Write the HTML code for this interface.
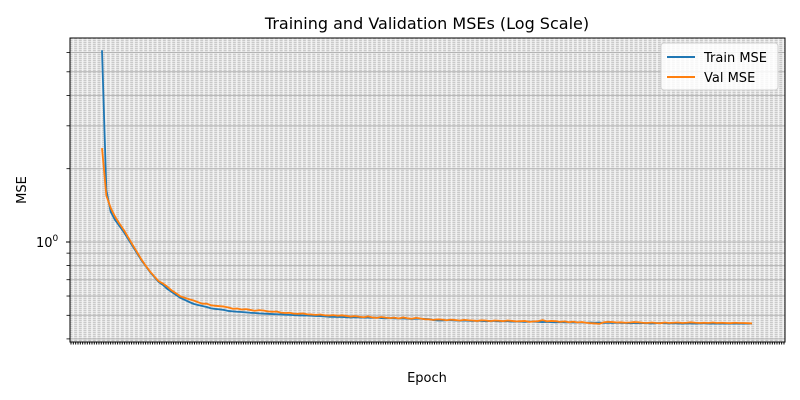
<!DOCTYPE html>
<html><head><meta charset="utf-8"><style>
html,body{margin:0;padding:0;background:#fff;}
svg{display:block;font-family:"DejaVu Sans","Liberation Sans",sans-serif;}
</style></head><body>
<svg id="chart" width="800" height="400" viewBox="0 0 800 400">
<defs>
<pattern id="gridpat" x="70" y="38" width="4.67" height="2" patternUnits="userSpaceOnUse">
<rect width="4.67" height="2" fill="#c9c9c9"/>
<rect y="1" width="4.67" height="1" fill="#e4e4e4"/>
<rect x="2.5" width="1.6" height="2" fill="#f4f4f4"/>
</pattern>
</defs>
<rect x="70" y="38" width="715" height="304" fill="url(#gridpat)"/>
<g id="hgrid"></g>
<g id="series"></g>
<rect x="70" y="38" width="715" height="304" fill="none" stroke="#000" stroke-width="1"/>
<g id="axes"></g>
<text x="427" y="29" text-anchor="middle" font-size="16">Training and Validation MSEs (Log Scale)</text>
<text x="427" y="382" text-anchor="middle" font-size="13">Epoch</text>
<text transform="translate(26,190) rotate(-90)" text-anchor="middle" font-size="13">MSE</text>
<g>
<rect x="661" y="43" width="117" height="47" rx="3" fill="#fff" fill-opacity="0.85" stroke="#d0d0d0"/>
<g>
<line x1="667" y1="57" x2="695" y2="57" stroke="#1f77b4" stroke-width="2"/>
<text x="704" y="62" font-size="13">Train MSE</text>
</g>
<g>
<line x1="667" y1="77" x2="695" y2="77" stroke="#ff7f0e" stroke-width="2"/>
<text x="704" y="82" font-size="13">Val MSE</text>
</g>
</g>
</svg>
<script>
const trainMSE=[6.13,1.63,1.33,1.231,1.163,1.099,1.029,0.963,0.901,0.843,0.797,0.753,0.718,0.685,0.666,0.641,0.623,0.606,0.589,0.578,0.567,0.557,0.551,0.546,0.541,0.534,0.531,0.529,0.526,0.521,
0.519,0.517,0.516,0.514,0.512,0.511,0.509,0.508,0.507,0.506,0.505,0.504,0.503,0.502,0.501,
0.500,0.499,0.499,0.498,0.497,0.496,0.495,0.493,0.493,0.492,0.492,0.491,0.490,0.491,0.490,
0.489,0.489,0.488,0.489,0.487,0.486,0.487,0.486,0.485,0.486,0.484,0.483,0.484,0.484,0.483,
0.482,0.478,0.476,0.476,0.477,0.477,0.476,0.475,0.476,0.475,0.474,0.475,0.474,0.473,0.474,
0.474,0.472,0.473,0.473,0.471,0.472,0.471,0.470,0.471,0.471,0.470,0.469,0.470,0.469,0.468,
0.469,0.468,0.468,0.467,0.468,0.467,0.466,0.467,0.466,0.467,0.465,0.466,0.465,0.466,0.465,
0.465,0.464,0.465,0.464,0.465,0.464,0.463,0.464,0.465,0.464,0.463,0.464,0.463,0.462,0.463,
0.463,0.462,0.463,0.464,0.462,0.463,0.462,0.463,0.462,0.462,0.463,0.462,0.462,0.462,0.462];
const valMSE=[2.43,1.55,1.38,1.27,1.19,1.12,1.045,0.975,0.91,0.85,0.80,0.757,0.722,0.69,0.675,0.655,0.632,0.615,0.598,0.590,0.582,0.575,0.566,0.558,0.558,0.550,0.547,0.545,0.543,0.538,
0.532,0.533,0.528,0.530,0.526,0.522,0.525,0.523,0.519,0.517,0.518,0.513,0.511,0.512,0.508,
0.507,0.509,0.505,0.504,0.502,0.504,0.500,0.499,0.501,0.498,0.500,0.497,0.494,0.496,0.493,
0.491,0.495,0.490,0.488,0.492,0.489,0.487,0.489,0.485,0.490,0.486,0.484,0.488,0.485,0.482,
0.481,0.479,0.481,0.480,0.477,0.480,0.478,0.476,0.479,0.477,0.476,0.474,0.477,0.476,0.473,
0.476,0.475,0.473,0.476,0.474,0.472,0.473,0.474,0.470,0.472,0.473,0.478,0.472,0.474,0.473,
0.470,0.472,0.468,0.471,0.467,0.469,0.466,0.464,0.463,0.461,0.468,0.470,0.469,0.467,0.468,
0.466,0.467,0.469,0.468,0.466,0.465,0.467,0.465,0.464,0.467,0.465,0.466,0.467,0.465,0.466,
0.468,0.466,0.465,0.466,0.465,0.467,0.465,0.466,0.465,0.464,0.466,0.465,0.465,0.464,0.463];
const yMinorTicks=[0.4,0.5,0.6,0.7,0.8,0.9,2,3,4,5,6];
const yMajorTicks=[1];

const NS="http://www.w3.org/2000/svg";
const n=trainMSE.length;
function xS(e){return 102+(e-1)*(650/(n-1));}
function yS(v){return 242-Math.log10(v)*243.5;}
function mk(tag,attrs,parent){const el=document.createElementNS(NS,tag);for(const k in attrs)el.setAttribute(k,attrs[k]);parent.appendChild(el);return el;}
const hg=document.getElementById('hgrid'),ax=document.getElementById('axes'),sg=document.getElementById('series');
yMinorTicks.concat(yMajorTicks).forEach(v=>{
  const y=yS(v);
  const g=mk('line',{x1:70,x2:785,y1:y,y2:y,stroke:'#b4b4b4','stroke-width':1},hg);
  
  
  const t=mk('line',{x1:66.5,x2:70,y1:y,y2:y,stroke:'#000','stroke-width':0.8},ax);
  
  
});
yMajorTicks.forEach(v=>{
  const y=yS(v);
  const t=mk('line',{x1:66,x2:70,y1:y,y2:y,stroke:'#000','stroke-width':1},ax);
  
  
  const lbl=mk('text',{x:36,y:y+5,'font-size':13},ax);
  
  
  lbl.innerHTML='10<tspan dy="-6" font-size="9">0</tspan>';
});
for(let x=71;x<785;x+=2.33){
  const t=mk('line',{x1:x,x2:x,y1:342,y2:344.5,stroke:'#000','stroke-width':1},ax);
  
  
}
function path(arr,color,name){
  const d=arr.map((v,i)=>(i?'L':'M')+xS(i+1).toFixed(2)+','+yS(v).toFixed(2)).join('');
  const p=mk('path',{d:d,fill:'none',stroke:color,'stroke-width':1.8,'stroke-linejoin':'round'},sg);
  
  
}
path(trainMSE,'#1f77b4','train-mse-line');
path(valMSE,'#ff7f0e','val-mse-line');
</script>
</body></html>
